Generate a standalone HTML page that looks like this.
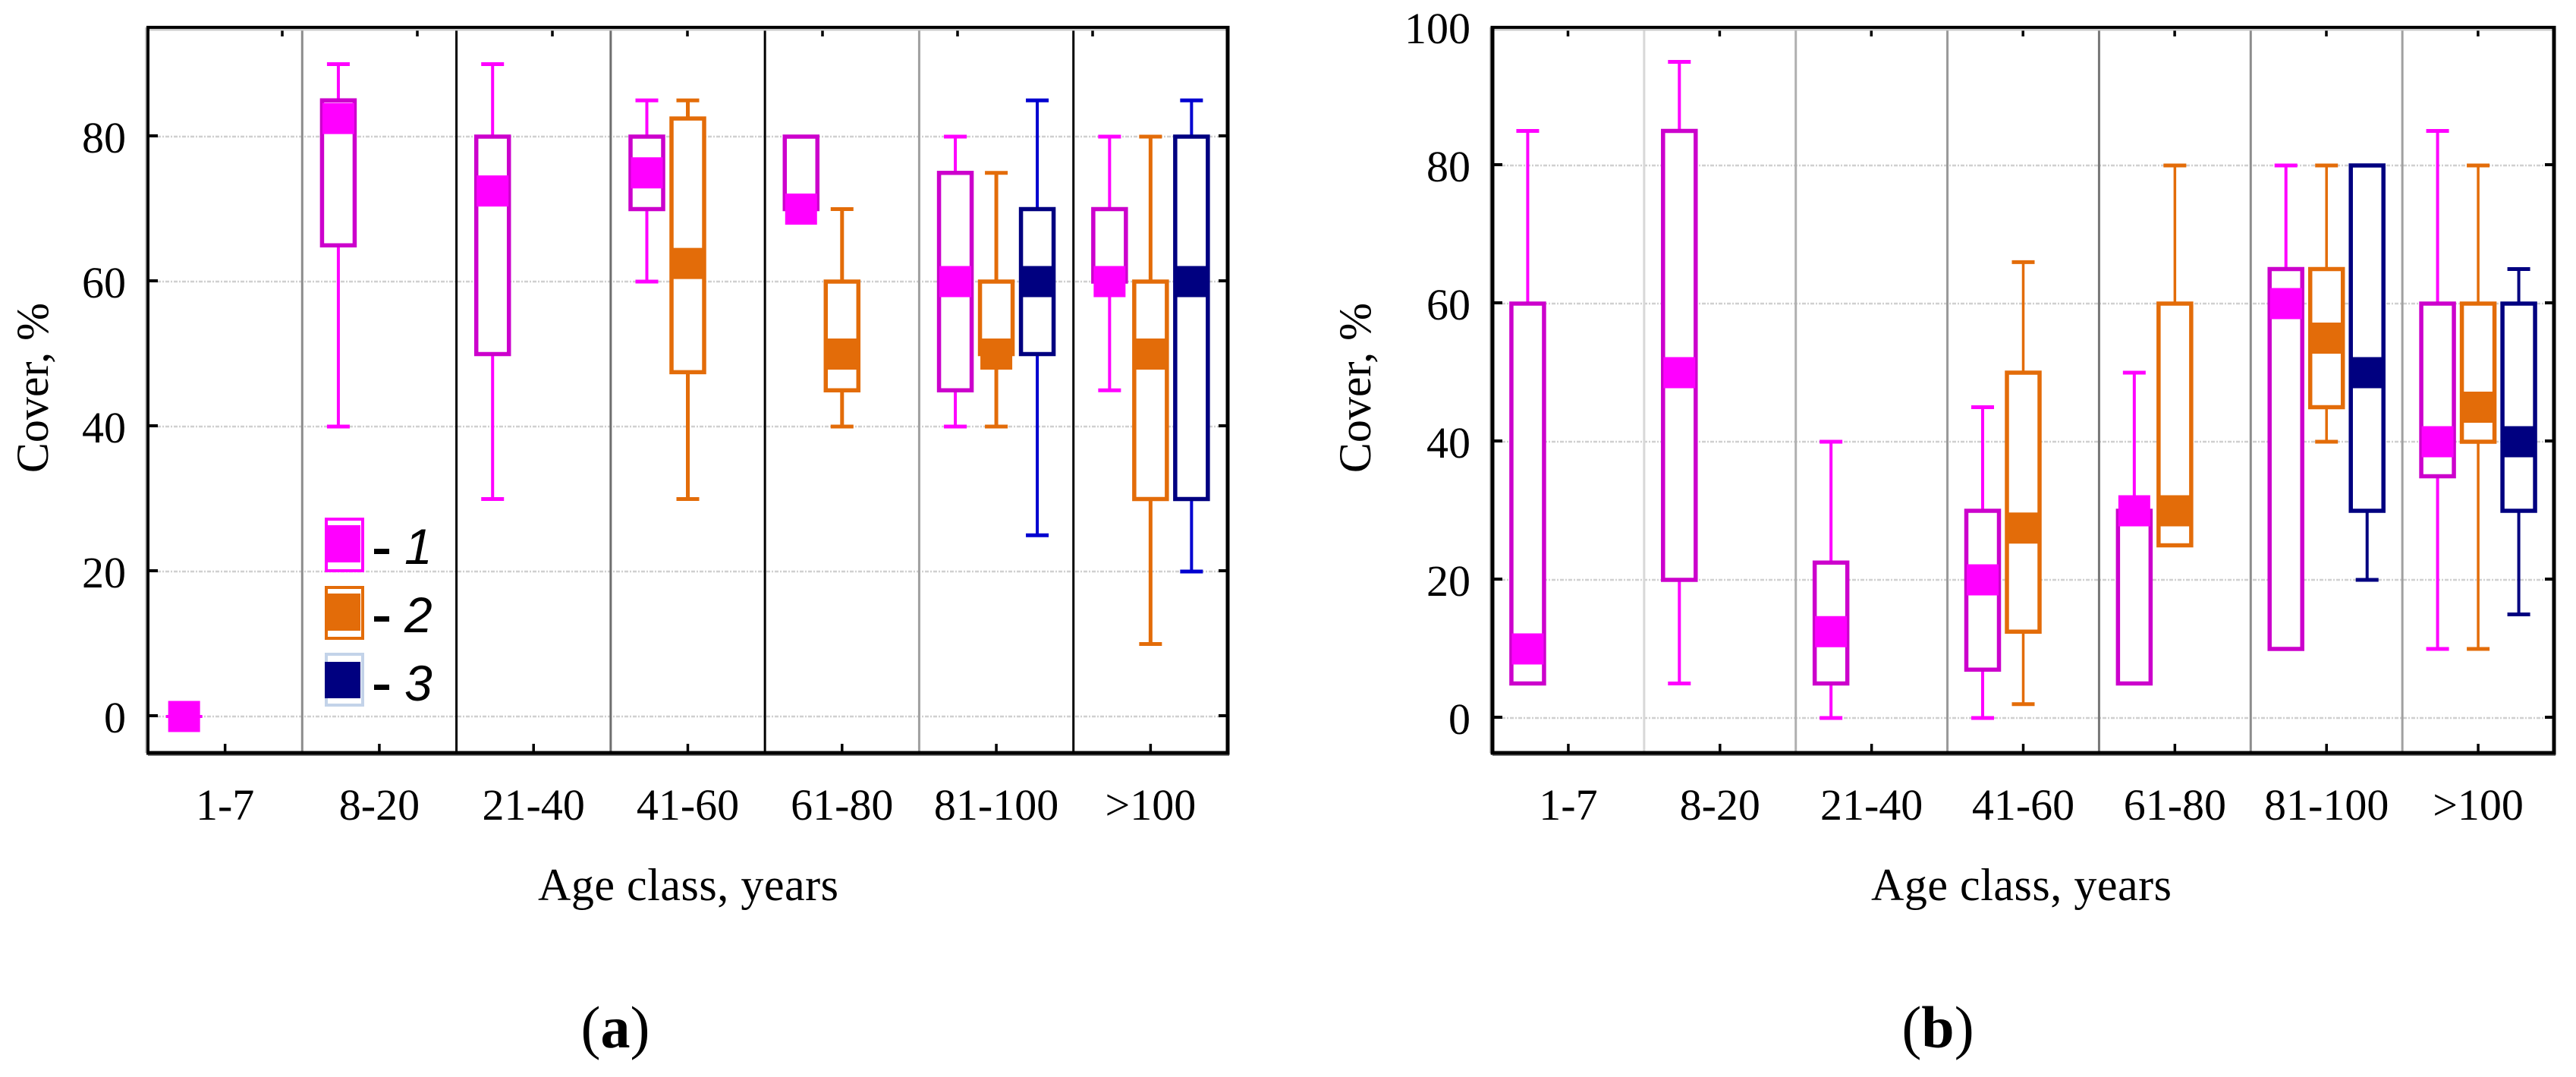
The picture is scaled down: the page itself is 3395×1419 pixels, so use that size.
<!DOCTYPE html>
<html lang="en">
<head>
<meta charset="utf-8">
<title>Cover by age class</title>
<style>
html,body{margin:0;padding:0;background:#fff;}
body{width:3395px;height:1419px;overflow:hidden;}
svg{display:block;}
text{font-family:"Liberation Serif",serif;fill:#000;}
.tick{font-size:58px;}
.title{font-size:60px;}
.panel{font-size:78px;}
.legnum{font-family:"Liberation Sans",sans-serif;font-style:italic;font-size:66px;}
</style>
</head>
<body>
<svg id="figure" xmlns="http://www.w3.org/2000/svg" width="3395" height="1419" viewBox="0 0 3395 1419">
  <rect x="0" y="0" width="3395" height="1419" fill="#ffffff"/>
  <g id="chart-a"></g>
  <g id="chart-b"></g>

  <text class="title" x="907" y="1186" text-anchor="middle" textLength="396">Age class, years</text>
  <text class="title" transform="translate(63 511) rotate(-90)" text-anchor="middle">Cover, %</text>
  <text class="title" x="2664" y="1186" text-anchor="middle" textLength="396">Age class, years</text>
  <text class="title" transform="translate(1806 511) rotate(-90)" text-anchor="middle">Cover, %</text>

  <text class="panel" x="811" y="1380" text-anchor="middle">(<tspan font-weight="bold">a</tspan>)</text>
  <text class="panel" x="2554" y="1380" text-anchor="middle">(<tspan font-weight="bold">b</tspan>)</text>

  <g id="legend">
    <g>
      <rect x="430" y="684" width="48" height="68" fill="#fff" stroke="#ff00ff" stroke-width="4"/>
      <rect x="428" y="692" width="47" height="49" fill="#ff00ff"/>
      <rect x="493" y="723" width="20" height="7" fill="#000"/>
      <text class="legnum" x="533" y="743">1</text>
    </g>
    <g>
      <rect x="430" y="774" width="48" height="67" fill="#fff" stroke="#e36c09" stroke-width="4"/>
      <rect x="428" y="782" width="47" height="49" fill="#e36c09"/>
      <rect x="493" y="812" width="20" height="7" fill="#000"/>
      <text class="legnum" x="533" y="833">2</text>
    </g>
    <g>
      <rect x="430" y="862" width="48" height="67" fill="#fff" stroke="#c3d3e9" stroke-width="4"/>
      <rect x="428" y="872" width="47" height="48" fill="#000080"/>
      <rect x="493" y="902" width="20" height="7" fill="#000"/>
      <text class="legnum" x="533" y="923">3</text>
    </g>
  </g>
</svg>

<script>
// Categories and tick labels
const ageClasses = ['1-7', '8-20', '21-40', '41-60', '61-80', '81-100', '>100'];
const yTicksA = [0, 20, 40, 60, 80];
const yTicksB = [0, 20, 40, 60, 80, 100];

// Each entry: [min, lower quartile, median, upper quartile, max] per age class
const chartAType1 = [[0, 0, 0, 0, 0], [40, 65, 82.5, 85, 90], [30, 50, 72.5, 80, 90], [60, 70, 75, 80, 85], [70, 70, 70, 80, 80], [40, 45, 60, 75, 80], [45, 60, 60, 70, 80]];
const chartAType2 = [null, null, null, [30, 47.5, 62.5, 82.5, 85], [40, 45, 50, 60, 70], [40, 50, 50, 60, 75], [10, 30, 50, 60, 80]];
const chartAType3 = [null, null, null, null, null, [25, 50, 60, 70, 85], [20, 30, 60, 80, 85]];

const chartBType1 = [[5, 5, 10, 60, 85], [5, 20, 50, 85, 95], [0, 5, 12.5, 22.5, 40], [0, 7, 20, 30, 45], [5, 5, 30, 30, 50], [10, 10, 60, 65, 80], [10, 35, 40, 60, 85]];
const chartBType2 = [null, null, null, [2, 12.5, 27.5, 50, 66], [25, 25, 30, 60, 80], [40, 45, 55, 65, 80], [10, 40, 45, 60, 80]];
const chartBType3 = [null, null, null, null, null, [20, 30, 50, 80, 80], [15, 30, 40, 60, 65]];

const NS = 'http://www.w3.org/2000/svg';

function line(parent, x1, y1, x2, y2, stroke, width, name, dash) {
  const el = document.createElementNS(NS, 'line');
  el.setAttribute('x1', x1);
  el.setAttribute('y1', y1);
  el.setAttribute('x2', x2);
  el.setAttribute('y2', y2);
  el.setAttribute('stroke', stroke);
  el.setAttribute('stroke-width', width);
  if (dash) el.setAttribute('stroke-dasharray', dash);
  
  
  parent.appendChild(el);
  return el;
}

function rect(parent, x, y, w, h, fill, stroke, sw, name) {
  const el = document.createElementNS(NS, 'rect');
  el.setAttribute('x', x);
  el.setAttribute('y', y);
  el.setAttribute('width', w);
  el.setAttribute('height', h);
  el.setAttribute('fill', fill);
  if (stroke) {
    el.setAttribute('stroke', stroke);
    el.setAttribute('stroke-width', sw);
  }
  
  
  parent.appendChild(el);
  return el;
}

function label(parent, x, y, anchor, content, name) {
  const el = document.createElementNS(NS, 'text');
  el.setAttribute('x', x);
  el.setAttribute('y', y);
  el.setAttribute('text-anchor', anchor);
  el.setAttribute('class', 'tick');
  el.textContent = content;
  
  
  parent.appendChild(el);
  return el;
}

function drawChart(cfg) {
  const g = document.getElementById(cfg.id);
  const bandW = (cfg.right - cfg.left) / ageClasses.length;
  const xBand = function (i) { return cfg.left + bandW * (i + 0.5); };
  const yVal = function (v) { return cfg.y0 - v * cfg.pxPerUnit; };

  // Grid lines and value ticks
  cfg.yTicks.forEach(function (t) {
    const y = yVal(t);
    if (t <= 80) {
      line(g, cfg.left + 12, y, cfg.right - 10, y, '#d0d0d0', 2.5, 'grid-line-' + t, '5 2 2 2');
    }
    if (t < 100) {
      line(g, cfg.left, y - 1, cfg.left + 13, y - 1, '#000', 4, 'y-tick-left-' + t);
      line(g, cfg.right - 12, y - 1, cfg.right, y - 1, '#000', 4, 'y-tick-right-' + t);
    }
    label(g, cfg.labelRight, y + 21, 'end', String(t), 'y-tick-label-' + t);
  });

  // Vertical dividers
  cfg.dividerColors.forEach(function (c, i) {
    const x = cfg.left + bandW * (i + 1);
    line(g, x, cfg.top, x, cfg.bottom, c, 3, 'age-class-divider-' + (i + 1));
  });

  // Category ticks and labels
  ageClasses.forEach(function (c, i) {
    const x = xBand(i);
    line(g, x, cfg.bottom - 12, x, cfg.bottom, '#000', 3.5, 'x-tick-' + c);
    const topX = cfg.topTickStart + cfg.topTickStep * i;
    line(g, topX, cfg.top, topX, cfg.top + 12, '#000', 3.5, 'x-tick-top-' + c);
    label(g, x, 1080, 'middle', c, 'x-tick-label-' + c);
  });

  // Frame with its soft grey halo
  line(g, cfg.left, cfg.top + 3, cfg.right, cfg.top + 3, '#c8c8c8', 3, 'frame-top-halo');
  line(g, cfg.left - 3, cfg.top, cfg.left - 3, cfg.bottom, '#c4c4c4', 2, 'frame-left-halo');
  line(g, cfg.left, cfg.bottom + 3, cfg.right + 2, cfg.bottom + 3, '#888888', 2, 'frame-bottom-halo');
  line(g, cfg.left - 2, cfg.top, cfg.right + 2.5, cfg.top, '#000', 4, 'frame-top');
  line(g, cfg.left, cfg.top - 2, cfg.left, cfg.bottom + 2, '#000', cfg.leftWidth, 'frame-left');
  line(g, cfg.left - 2, cfg.bottom, cfg.right + 2.5, cfg.bottom, '#000', 5, 'frame-bottom');
  line(g, cfg.right, cfg.top - 2, cfg.right, cfg.bottom + 2.5, '#000', 5, 'frame-right');

  // Box plots
  cfg.series.forEach(function (s, si) {
    s.values.forEach(function (d, i) {
      if (!d) return;
      const base = 'type-' + (si + 1) + '-' + ageClasses[i];
      const cx = xBand(i) + cfg.offset * (si - 1);
      const yMin = yVal(d[0]);
      const yQ1 = yVal(d[1]);
      const yMed = yVal(d[2]);
      const yQ3 = yVal(d[3]);
      const yMax = yVal(d[4]);
      const cap = 15;
      if (d[0] < d[1]) {
        line(g, cx, yQ1, cx, yMin, s.whisker, s.whiskerWidth, 'whisker-low-' + base);
        line(g, cx - cap, yMin, cx + cap, yMin, s.whisker, 5, 'cap-low-' + base);
      }
      if (d[4] > d[3]) {
        line(g, cx, yQ3, cx, yMax, s.whisker, s.whiskerWidth, 'whisker-high-' + base);
        line(g, cx - cap, yMax, cx + cap, yMax, s.whisker, 5, 'cap-high-' + base);
      }
      if (d[3] > d[1]) {
        rect(g, cx - 21.5, yQ3, 43, yQ1 - yQ3, '#fff', s.box, 5.5, 'box-' + base);
      } else {
        line(g, cx - 24, yQ1, cx + 24, yQ1, s.whisker, 4, 'box-' + base);
      }
      rect(g, cx - 21, yMed - 20.5, 42, 41, s.median, null, 0, 'median-' + base);
    });
  });
}

drawChart({
  id: 'chart-a',
  left: 195, right: 1618, top: 36, bottom: 992,
  y0: 944, pxPerUnit: 9.55,
  offset: 54, labelRight: 166, leftWidth: 4,
  topTickStart: 372, topTickStep: 178,
  yTicks: yTicksA,
  dividerColors: ['#8c8c8c', '#000000', '#6e6e6e', '#000000', '#a0a0a0', '#000000'],
  series: [
    { values: chartAType1, box: '#cc00cc', whisker: '#ff00ff', median: '#ff00ff', whiskerWidth: 4 },
    { values: chartAType2, box: '#e36c09', whisker: '#e36c09', median: '#e36c09', whiskerWidth: 5 },
    { values: chartAType3, box: '#000080', whisker: '#0000d0', median: '#000080', whiskerWidth: 4 }
  ]
});

drawChart({
  id: 'chart-b',
  left: 1967, right: 3366, top: 36, bottom: 992,
  y0: 946, pxPerUnit: 9.1,
  offset: 53.5, labelRight: 1938, leftWidth: 5,
  topTickStart: 2066.5, topTickStep: 199.9,
  yTicks: yTicksB,
  dividerColors: ['#d8d8d8', '#b0b0b0', '#999999', '#777777', '#8c8c8c', '#a0a0a0'],
  series: [
    { values: chartBType1, box: '#cc00cc', whisker: '#ff00ff', median: '#ff00ff', whiskerWidth: 4 },
    { values: chartBType2, box: '#e36c09', whisker: '#e36c09', median: '#e36c09', whiskerWidth: 3.5 },
    { values: chartBType3, box: '#000080', whisker: '#000080', median: '#000080', whiskerWidth: 4 }
  ]
});
</script>
</body>
</html>
